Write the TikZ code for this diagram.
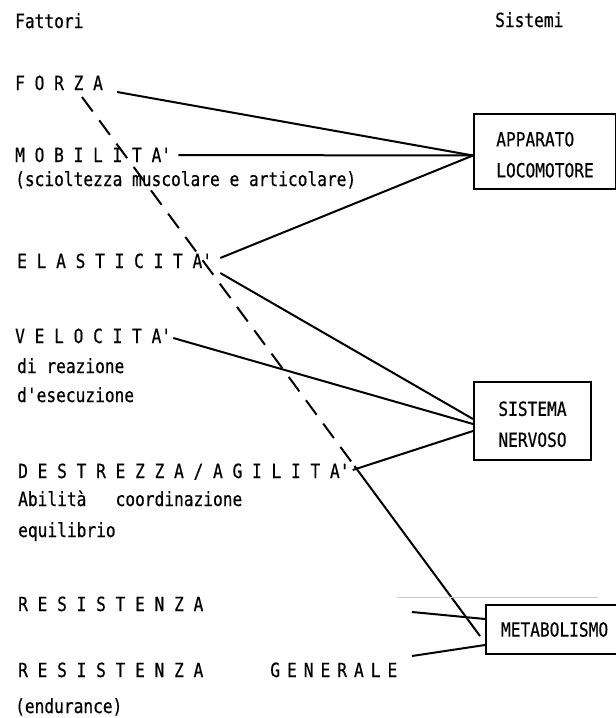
\documentclass[tikz,border=0pt]{standalone}
\usepackage{fontspec}
\setmonofont[FakeStretch=0.83, FakeBold=0.5]{DejaVu Sans Mono}

\begin{document}
\begin{tikzpicture}[x=1pt, y=-1pt,
    font=\ttfamily\fontsize{19.5}{31}\selectfont,
    fac/.style={anchor=base west, inner sep=0pt},
    sys/.style={draw, line width=2pt, align=left, inner sep=0pt},
    link/.style={line width=2pt},
    dash link/.style={link, dash pattern=on 18pt off 11pt}]
  \useasboundingbox (0,0) rectangle (616,718);
  % titoli
  \node[fac] (fattori) at (15,28) {Fattori};
  \node[fac] (sistemi) at (495,27) {Sistemi};
  % fattori
  \node[fac] (forza) at (15,90) {F O R Z A};
  \node[fac] (mobilita) at (15,162) {M O B I L I T A'};
  \node[fac] (mobilitab) at (15,186) {(scioltezza muscolare e articolare)};
  \node[fac] (elasticita) at (17,268) {E L A S T I C I T A'};
  \node[fac] (velocita) at (15,343) {V E L O C I T A'};
  \node[fac] (velocitab) at (17,373) {di reazione};
  \node[fac] (velocitac) at (17,402) {d'esecuzione};
  \node[fac] (destrezza) at (18,478) {D E S T R E Z Z A / A G I L I T A'};
  \node[fac] (destrezzab) at (18,506) {Abilità\ \ \ coordinazione};
  \node[fac] (destrezzac) at (18,537) {equilibrio};
  \node[fac] (resistenza) at (18,611) {R E S I S T E N Z A};
  \node[fac] (resgen) at (18,677) {R E S I S T E N Z A\hspace{67pt}{\spaceskip=7pt G E N E R A L E}};
  \node[fac] (resgenb) at (15,713) {(endurance)};
  % sistemi
  \node[sys, anchor=north west, minimum width=142pt, minimum height=75pt] (locomotore) at (473,113) {\rule{0pt}{21pt}APPARATO\\LOCOMOTORE};
  \node[sys, anchor=north west, minimum width=117pt, minimum height=78pt] (nervoso) at (473,381) {\rule{0pt}{21pt}SISTEMA\\NERVOSO};
  \node[sys, anchor=west, minimum height=49pt, inner xsep=15pt] (metabolismo) at (485,629.5) {METABOLISMO};
  % collegamenti
  \draw[link] (forza.base east) ++(14,2) -- ([yshift=-4pt]locomotore.west);
  \draw[link] (mobilita.base east) ++(7,-7) -- ([yshift=-4pt]locomotore.west);
  \draw[link] (elasticita.base east) ++(8,-10) -- ([yshift=-4pt]locomotore.west);
  \draw[link] (elasticita.base east) ++(8,5) -- ([yshift=2pt]nervoso.west);
  \draw[link] (velocita.base east) ++(2,-5) -- ([yshift=-3pt]nervoso.west);
  \draw[link] (destrezza.base east) ++(3,-8) -- ([yshift=-10pt]nervoso.west);
  \coordinate (res a) at (412,612);
  \coordinate (res b) at (412,656);
  \draw[link] (res a) -- ([yshift=10.5pt]metabolismo.west);
  \draw[link] (res b) -- ([yshift=-15.5pt]metabolismo.west);
  \coordinate (incrocio) at (354.5,466);
  \draw[dash link] (forza.base west) ++(67,7) -- (incrocio);
  \draw[link] (incrocio) -- ([xshift=-5pt,yshift=-6.5pt]metabolismo.west);
  \draw[gray!40, line width=0.7pt] (397,597) -- (598,597);
\end{tikzpicture}
\end{document}
